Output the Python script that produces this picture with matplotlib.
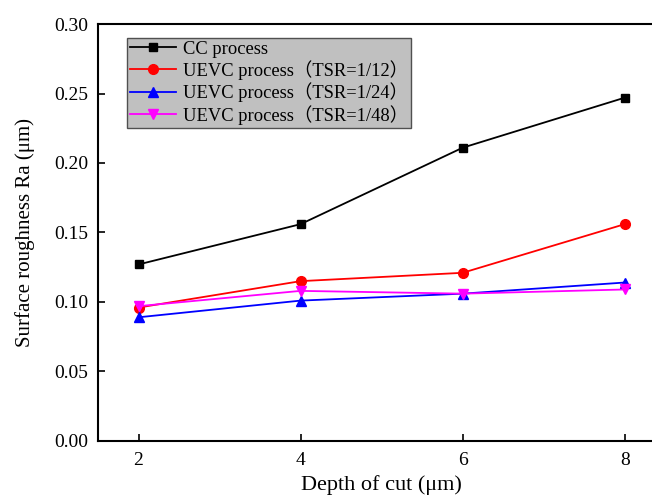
import numpy as np
import matplotlib.pyplot as plt

plt.rcParams['font.family'] = ['Liberation Serif', 'Noto Sans CJK SC']

depth = [2, 4, 6, 8]
cc = [0.127, 0.156, 0.211, 0.247]
tsr12 = [0.096, 0.115, 0.121, 0.156]
tsr24 = [0.089, 0.101, 0.106, 0.114]
tsr48 = [0.097, 0.108, 0.106, 0.109]

labels = ['CC process',
          'UEVC process\uff08TSR=1/12\uff09',
          'UEVC process\uff08TSR=1/24\uff09',
          'UEVC process\uff08TSR=1/48\uff09']

fig = plt.figure(figsize=(6.52, 4.97), dpi=100)
ax = fig.add_axes([0.1503, 0.1127, 0.87, 0.839])

ax.plot(depth, cc, color='black', marker='s', ms=6, lw=1.3, label=labels[0])
ax.plot(depth, tsr12, color='red', marker='o', ms=7, lw=1.3, label=labels[1])
ax.plot(depth, tsr24, color='blue', marker='^', ms=7, lw=1.3, label=labels[2])
ax.plot(depth, tsr48, color='magenta', marker='v', ms=7, lw=1.3, label=labels[3])

ax.set_xlim(1.5, 8.5)
ax.set_ylim(0, 0.30)
ax.set_xticks([2, 4, 6, 8])
ax.set_yticks(np.arange(0, 0.31, 0.05))
ax.set_yticklabels(['%.2f' % v for v in np.arange(0, 0.31, 0.05)])
ax.tick_params(direction='in', length=5, width=1.2, labelsize=14, top=False, right=False)
ax.tick_params(axis='x', pad=8)
ax.tick_params(axis='y', pad=7)
for s in ax.spines.values():
    s.set_linewidth(1.5)

ax.set_xlabel('Depth of cut (\u03bcm)', fontsize=16, labelpad=4.5)
ax.set_ylabel('Surface roughness Ra (\u03bcm)', fontsize=15, labelpad=14)

leg = ax.legend(loc='upper left', bbox_to_anchor=(0.051, 0.967), fontsize=13.3,
                frameon=True, fancybox=False, edgecolor='#505050',
                facecolor='#c0c0c0', framealpha=1, handlelength=2.5,
                borderpad=0.15, labelspacing=0.14, handletextpad=0.4,
                borderaxespad=0)
leg.get_frame().set_linewidth(1.0)

fig.savefig('out.png', dpi=100)
